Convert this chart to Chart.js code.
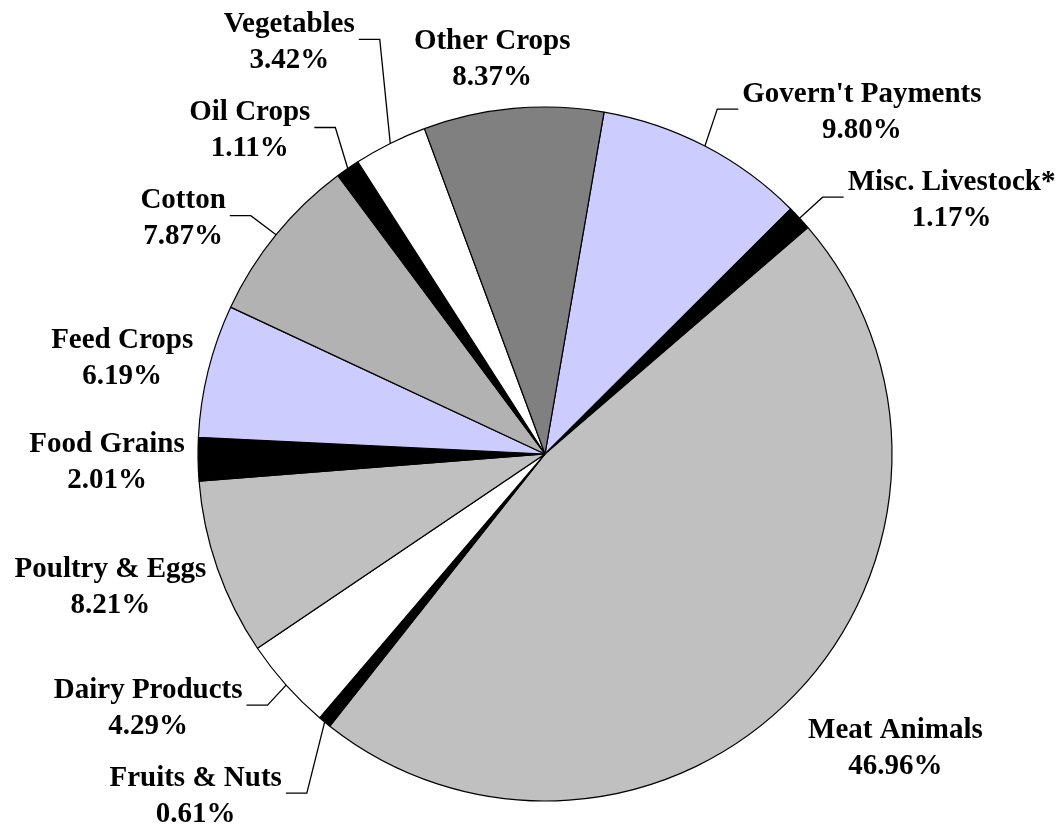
<!DOCTYPE html>
<html lang="en">
<head>
<meta charset="utf-8">
<title>Farm receipts</title>
<script src="https://cdn.jsdelivr.net/npm/chart.js@4"></script>
<style>
    html, body { margin: 0; padding: 0; background: #fff; }
    #wrap { width: 1059px; height: 828px; position: relative; }
</style>
</head>
<body>
<div id="wrap"><canvas id="pieChart"></canvas></div>
<script>
// Données du graphique (ordre horaire, en partant de Govern't Payments)
const categories = [
    "Govern't Payments", 'Misc. Livestock*', 'Meat Animals', 'Fruits & Nuts',
    'Dairy Products', 'Poultry & Eggs', 'Food Grains', 'Feed Crops',
    'Cotton', 'Oil Crops', 'Vegetables', 'Other Crops'
];
const shares = [9.80, 1.17, 46.96, 0.61, 4.29, 8.21, 2.01, 6.19, 7.87, 1.11, 3.42, 8.37];

// Couleurs des parts
const sliceColors = [
    '#CCCCFF', '#000000', '#C0C0C0', '#000000',
    '#FFFFFF', '#C0C0C0', '#000000', '#CCCCFF',
    '#B2B2B2', '#000000', '#FFFFFF', '#808080'
];

// Placement des étiquettes : décalage depuis le milieu du bord de chaque part
const labelOffsets = [
    [157, -34], [152, -18], [100, 54], [-129, 74],
    [-138, 23], [-107, 19], [-91, 3.5], [-86, -12],
    [-93, -16], [-98, -38], [-101, -101], [-21, -49]
];
const hasLeader = [true, true, false, true, true, false, false, false, true, true, true, false];

const LABEL_FONT = 'bold 29px "Liberation Serif", "Times New Roman", serif';
const LINE_GAP = 36;

// Plugin : étiquettes et traits de rappel
const pieLabels = {
    id: 'pieLabels',
    afterDraw(chart) {
        const ctx = chart.ctx;
        const arcs = chart.getDatasetMeta(0).data;
        ctx.save();
        ctx.font = LABEL_FONT;
        ctx.fillStyle = '#000';
        ctx.strokeStyle = '#000';
        ctx.lineWidth = 1.3;
        ctx.textAlign = 'center';
        ctx.textBaseline = 'middle';

        arcs.forEach((arc, i) => {
            const { x, y, startAngle, endAngle, outerRadius } = arc.getProps(['x', 'y', 'startAngle', 'endAngle', 'outerRadius'], true);
            const mid = (startAngle + endAngle) / 2;
            const ex = x + Math.cos(mid) * outerRadius;
            const ey = y + Math.sin(mid) * outerRadius;
            const lx = ex + labelOffsets[i][0];
            const ly = ey + labelOffsets[i][1];

            const line1 = categories[i];
            const line2 = shares[i].toFixed(2) + '%';
            ctx.fillText(line1, lx, ly - LINE_GAP / 2);
            ctx.fillText(line2, lx, ly + LINE_GAP / 2);

            if (hasLeader[i]) {
                const halfW = Math.max(ctx.measureText(line1).width, ctx.measureText(line2).width) / 2;
                const dir = labelOffsets[i][0] < 0 ? 1 : -1;
                const sx = lx + dir * (halfW + 4);
                const sy = ly - 3;
                ctx.beginPath();
                ctx.moveTo(sx, sy);
                ctx.lineTo(sx + dir * 21, sy);
                ctx.lineTo(ex, ey);
                ctx.stroke();
            }
        });
        ctx.restore();
    }
};

new Chart(document.getElementById('pieChart'), {
    type: 'pie',
    data: {
        labels: categories,
        datasets: [{
            data: shares,
            backgroundColor: sliceColors,
            borderColor: '#000',
            borderWidth: 1.2
        }]
    },
    options: {
        responsive: true,
        maintainAspectRatio: false,
        animation: false,
        rotation: 9.8,
        radius: 347,
        layout: {
            padding: { left: 190, right: 159, top: 100, bottom: 20 }
        },
        plugins: {
            legend: { display: false },
            tooltip: { enabled: false }
        }
    },
    plugins: [pieLabels]
});
</script>
</body>
</html>
